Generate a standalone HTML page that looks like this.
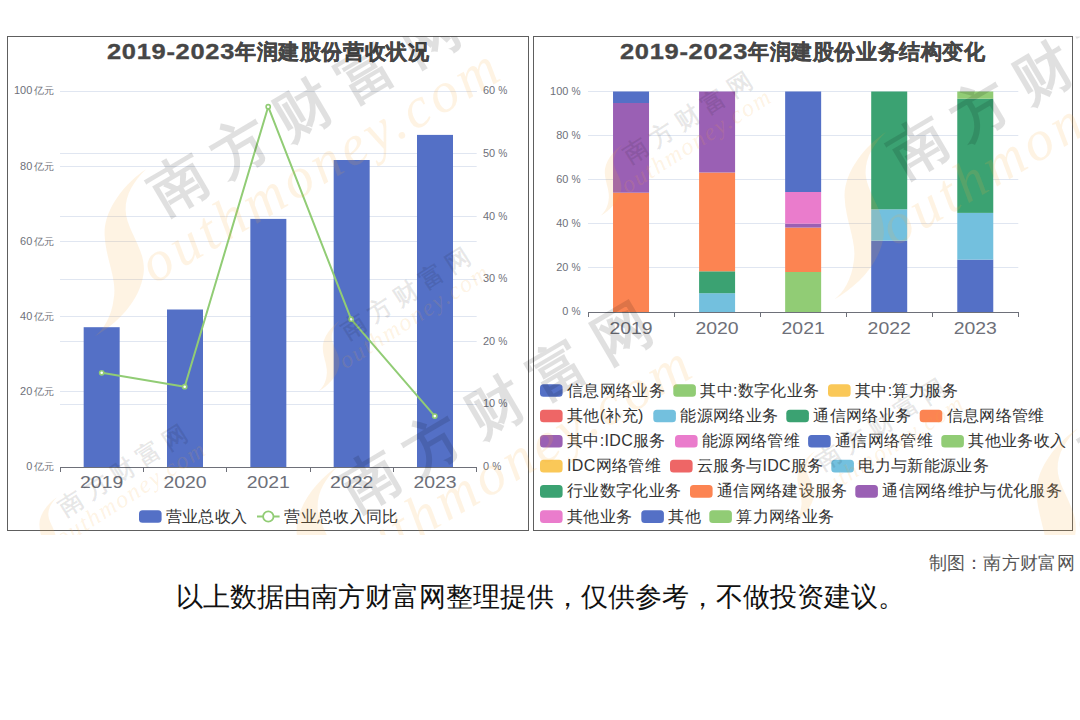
<!DOCTYPE html>
<html><head><meta charset="utf-8"><style>
html,body{margin:0;padding:0;background:#fff;width:1080px;height:720px;overflow:hidden}
svg{display:block}
text{font-family:"Liberation Sans",sans-serif}
.al{font-size:10.5px;fill:#6e7079}
.alc{font-size:10px;fill:#6e7079}
.xl{font-size:16.5px;fill:#6e7079}
.tt{font-size:21px;letter-spacing:0.6px;font-weight:bold;fill:#464646;stroke:#464646;stroke-width:0.35px}
.lg{font-size:16px;fill:#333;letter-spacing:0.35px}
.ft{font-size:18px;fill:#555;letter-spacing:0.3px}
.nt{font-size:27px;fill:#111}
.wmo{font-family:'Liberation Serif',serif;font-style:italic;font-size:57px;fill:rgba(250,170,60,0.145)}
.wmc{font-size:57px;font-weight:bold;letter-spacing:16px;fill:rgba(0,0,0,0.12)}
</style></head>
<body><svg width="1080" height="720" viewBox="0 0 1080 720">
<rect x="7.5" y="36.5" width="521" height="494" fill="#fff" stroke="#5e5e5e" stroke-width="1"/><line x1="60" y1="391.5" x2="476.67" y2="391.5" stroke="#e0e6f1" stroke-width="1"/><line x1="60" y1="316.5" x2="476.67" y2="316.5" stroke="#e0e6f1" stroke-width="1"/><line x1="60" y1="241.5" x2="476.67" y2="241.5" stroke="#e0e6f1" stroke-width="1"/><line x1="60" y1="166.5" x2="476.67" y2="166.5" stroke="#e0e6f1" stroke-width="1"/><line x1="60" y1="91.5" x2="476.67" y2="91.5" stroke="#e0e6f1" stroke-width="1"/><line x1="60" y1="404.5" x2="476.67" y2="404.5" stroke="#e0e6f1" stroke-width="1"/><line x1="60" y1="341.5" x2="476.67" y2="341.5" stroke="#e0e6f1" stroke-width="1"/><line x1="60" y1="279.5" x2="476.67" y2="279.5" stroke="#e0e6f1" stroke-width="1"/><line x1="60" y1="216.5" x2="476.67" y2="216.5" stroke="#e0e6f1" stroke-width="1"/><line x1="60" y1="153.5" x2="476.67" y2="153.5" stroke="#e0e6f1" stroke-width="1"/><line x1="60" y1="91.5" x2="476.67" y2="91.5" stroke="#e0e6f1" stroke-width="1"/><text x="26.20" y="470.10" class="al" textLength="6.10" lengthAdjust="spacingAndGlyphs">0</text><text x="34" y="470.10" class="alc">亿元</text><text x="20.10" y="394.95" class="al" textLength="12.20" lengthAdjust="spacingAndGlyphs">20</text><text x="34" y="394.95" class="alc">亿元</text><text x="20.10" y="319.80" class="al" textLength="12.20" lengthAdjust="spacingAndGlyphs">40</text><text x="34" y="319.80" class="alc">亿元</text><text x="20.10" y="244.65" class="al" textLength="12.20" lengthAdjust="spacingAndGlyphs">60</text><text x="34" y="244.65" class="alc">亿元</text><text x="20.10" y="169.50" class="al" textLength="12.20" lengthAdjust="spacingAndGlyphs">80</text><text x="34" y="169.50" class="alc">亿元</text><text x="14.00" y="94.35" class="al" textLength="18.30" lengthAdjust="spacingAndGlyphs">100</text><text x="34" y="94.35" class="alc">亿元</text><text x="483.00" y="470.10" class="al" textLength="6.10" lengthAdjust="spacingAndGlyphs">0</text><text x="492.15" y="470.10" class="al" textLength="9.1" lengthAdjust="spacingAndGlyphs">%</text><text x="483.00" y="407.48" class="al" textLength="12.20" lengthAdjust="spacingAndGlyphs">10</text><text x="498.25" y="407.48" class="al" textLength="9.1" lengthAdjust="spacingAndGlyphs">%</text><text x="483.00" y="344.85" class="al" textLength="12.20" lengthAdjust="spacingAndGlyphs">20</text><text x="498.25" y="344.85" class="al" textLength="9.1" lengthAdjust="spacingAndGlyphs">%</text><text x="483.00" y="282.23" class="al" textLength="12.20" lengthAdjust="spacingAndGlyphs">30</text><text x="498.25" y="282.23" class="al" textLength="9.1" lengthAdjust="spacingAndGlyphs">%</text><text x="483.00" y="219.60" class="al" textLength="12.20" lengthAdjust="spacingAndGlyphs">40</text><text x="498.25" y="219.60" class="al" textLength="9.1" lengthAdjust="spacingAndGlyphs">%</text><text x="483.00" y="156.97" class="al" textLength="12.20" lengthAdjust="spacingAndGlyphs">50</text><text x="498.25" y="156.97" class="al" textLength="9.1" lengthAdjust="spacingAndGlyphs">%</text><text x="483.00" y="94.35" class="al" textLength="12.20" lengthAdjust="spacingAndGlyphs">60</text><text x="498.25" y="94.35" class="al" textLength="9.1" lengthAdjust="spacingAndGlyphs">%</text><rect x="83.67" y="327.2" width="36" height="139.80" fill="#5470c6"/><rect x="167.00" y="309.5" width="36" height="157.50" fill="#5470c6"/><rect x="250.34" y="218.9" width="36" height="248.10" fill="#5470c6"/><rect x="333.67" y="160" width="36" height="307.00" fill="#5470c6"/><rect x="417.00" y="134.9" width="36" height="332.10" fill="#5470c6"/><line x1="60" y1="467.5" x2="476.67" y2="467.5" stroke="#6e7079" stroke-width="1"/><line x1="60.5" y1="467" x2="60.5" y2="472" stroke="#6e7079" stroke-width="1"/><line x1="143.5" y1="467" x2="143.5" y2="472" stroke="#6e7079" stroke-width="1"/><line x1="226.5" y1="467" x2="226.5" y2="472" stroke="#6e7079" stroke-width="1"/><line x1="310.5" y1="467" x2="310.5" y2="472" stroke="#6e7079" stroke-width="1"/><line x1="393.5" y1="467" x2="393.5" y2="472" stroke="#6e7079" stroke-width="1"/><line x1="476.5" y1="467" x2="476.5" y2="472" stroke="#6e7079" stroke-width="1"/><text x="80.07" y="487.5" class="xl" textLength="43.2" lengthAdjust="spacingAndGlyphs">2019</text><text x="163.40" y="487.5" class="xl" textLength="43.2" lengthAdjust="spacingAndGlyphs">2020</text><text x="246.74" y="487.5" class="xl" textLength="43.2" lengthAdjust="spacingAndGlyphs">2021</text><text x="330.07" y="487.5" class="xl" textLength="43.2" lengthAdjust="spacingAndGlyphs">2022</text><text x="413.40" y="487.5" class="xl" textLength="43.2" lengthAdjust="spacingAndGlyphs">2023</text><polyline fill="none" stroke="#91cc75" stroke-width="2" stroke-linejoin="round" points="101.7,372.8 184.7,386.7 268.2,106.7 351.1,319.2 434.8,416.1"/><circle cx="101.7" cy="372.8" r="2.1" fill="#fff" stroke="#91cc75" stroke-width="1.6"/><circle cx="184.7" cy="386.7" r="2.1" fill="#fff" stroke="#91cc75" stroke-width="1.6"/><circle cx="268.2" cy="106.7" r="2.1" fill="#fff" stroke="#91cc75" stroke-width="1.6"/><circle cx="351.1" cy="319.2" r="2.1" fill="#fff" stroke="#91cc75" stroke-width="1.6"/><circle cx="434.8" cy="416.1" r="2.1" fill="#fff" stroke="#91cc75" stroke-width="1.6"/><text x="107" y="59.3" class="tt"><tspan textLength="128" lengthAdjust="spacingAndGlyphs" style="font-size:22px">2019-2023</tspan>年润建股份营收状况</text><rect x="139" y="510.2" width="22.6" height="12.6" rx="3.5" fill="#5470c6"/><text x="165.6" y="522" class="lg">营业总收入</text><line x1="257" y1="516.5" x2="279.6" y2="516.5" stroke="#91cc75" stroke-width="2"/><circle cx="268.3" cy="516.5" r="5.2" fill="#fff" stroke="#91cc75" stroke-width="1.8"/><text x="284.3" y="522" class="lg">营业总收入同比</text>
<rect x="533.5" y="36.5" width="539" height="494" fill="#fff" stroke="#5e5e5e" stroke-width="1"/><line x1="588.0" y1="267.5" x2="1018.3" y2="267.5" stroke="#e0e6f1" stroke-width="1"/><line x1="588.0" y1="223.5" x2="1018.3" y2="223.5" stroke="#e0e6f1" stroke-width="1"/><line x1="588.0" y1="179.5" x2="1018.3" y2="179.5" stroke="#e0e6f1" stroke-width="1"/><line x1="588.0" y1="135.5" x2="1018.3" y2="135.5" stroke="#e0e6f1" stroke-width="1"/><line x1="588.0" y1="91.5" x2="1018.3" y2="91.5" stroke="#e0e6f1" stroke-width="1"/><text x="562.25" y="315.10" class="al" textLength="6.10" lengthAdjust="spacingAndGlyphs">0</text><text x="571.40" y="315.10" class="al" textLength="9.1" lengthAdjust="spacingAndGlyphs">%</text><text x="556.15" y="271.00" class="al" textLength="12.20" lengthAdjust="spacingAndGlyphs">20</text><text x="571.40" y="271.00" class="al" textLength="9.1" lengthAdjust="spacingAndGlyphs">%</text><text x="556.15" y="226.90" class="al" textLength="12.20" lengthAdjust="spacingAndGlyphs">40</text><text x="571.40" y="226.90" class="al" textLength="9.1" lengthAdjust="spacingAndGlyphs">%</text><text x="556.15" y="182.80" class="al" textLength="12.20" lengthAdjust="spacingAndGlyphs">60</text><text x="571.40" y="182.80" class="al" textLength="9.1" lengthAdjust="spacingAndGlyphs">%</text><text x="556.15" y="138.70" class="al" textLength="12.20" lengthAdjust="spacingAndGlyphs">80</text><text x="571.40" y="138.70" class="al" textLength="9.1" lengthAdjust="spacingAndGlyphs">%</text><text x="550.05" y="94.60" class="al" textLength="18.30" lengthAdjust="spacingAndGlyphs">100</text><text x="571.40" y="94.60" class="al" textLength="9.1" lengthAdjust="spacingAndGlyphs">%</text><rect x="613.03" y="192.7" width="36" height="119.30" fill="#fc8452"/><rect x="613.03" y="103" width="36" height="89.70" fill="#9a60b4"/><rect x="613.03" y="91.5" width="36" height="11.50" fill="#5470c6"/><rect x="699.09" y="293.2" width="36" height="18.80" fill="#73c0de"/><rect x="699.09" y="271.3" width="36" height="21.90" fill="#3ba272"/><rect x="699.09" y="172.5" width="36" height="98.80" fill="#fc8452"/><rect x="699.09" y="91.5" width="36" height="81.00" fill="#9a60b4"/><rect x="785.15" y="272" width="36" height="40.00" fill="#91cc75"/><rect x="785.15" y="227.6" width="36" height="44.40" fill="#fc8452"/><rect x="785.15" y="223.7" width="36" height="3.90" fill="#9a60b4"/><rect x="785.15" y="192" width="36" height="31.70" fill="#ea7ccc"/><rect x="785.15" y="91.5" width="36" height="100.50" fill="#5470c6"/><rect x="871.21" y="240.7" width="36" height="71.30" fill="#5470c6"/><rect x="871.21" y="209.3" width="36" height="31.40" fill="#73c0de"/><rect x="871.21" y="91.5" width="36" height="117.80" fill="#3ba272"/><rect x="957.27" y="259.6" width="36" height="52.40" fill="#5470c6"/><rect x="957.27" y="212.9" width="36" height="46.70" fill="#73c0de"/><rect x="957.27" y="98.7" width="36" height="114.20" fill="#3ba272"/><rect x="957.27" y="91.5" width="36" height="7.20" fill="#91cc75"/><line x1="588.0" y1="312.5" x2="1018.3" y2="312.5" stroke="#6e7079" stroke-width="1"/><line x1="588.5" y1="312" x2="588.5" y2="317" stroke="#6e7079" stroke-width="1"/><line x1="674.5" y1="312" x2="674.5" y2="317" stroke="#6e7079" stroke-width="1"/><line x1="760.5" y1="312" x2="760.5" y2="317" stroke="#6e7079" stroke-width="1"/><line x1="846.5" y1="312" x2="846.5" y2="317" stroke="#6e7079" stroke-width="1"/><line x1="932.5" y1="312" x2="932.5" y2="317" stroke="#6e7079" stroke-width="1"/><line x1="1018.5" y1="312" x2="1018.5" y2="317" stroke="#6e7079" stroke-width="1"/><text x="609.43" y="333.5" class="xl" textLength="43.2" lengthAdjust="spacingAndGlyphs">2019</text><text x="695.49" y="333.5" class="xl" textLength="43.2" lengthAdjust="spacingAndGlyphs">2020</text><text x="781.55" y="333.5" class="xl" textLength="43.2" lengthAdjust="spacingAndGlyphs">2021</text><text x="867.61" y="333.5" class="xl" textLength="43.2" lengthAdjust="spacingAndGlyphs">2022</text><text x="953.67" y="333.5" class="xl" textLength="43.2" lengthAdjust="spacingAndGlyphs">2023</text><text x="620" y="59.3" class="tt"><tspan textLength="128" lengthAdjust="spacingAndGlyphs" style="font-size:22px">2019-2023</tspan>年润建股份业务结构变化</text><rect x="540" y="384.20" width="22.6" height="12.6" rx="3.5" fill="#5470c6"/><text x="567.00" y="395.50" class="lg">信息网络业务</text><rect x="673.3" y="384.20" width="22.6" height="12.6" rx="3.5" fill="#91cc75"/><text x="700.30" y="395.50" class="lg">其中:数字化业务</text><rect x="828" y="384.20" width="22.6" height="12.6" rx="3.5" fill="#fac858"/><text x="855.00" y="395.50" class="lg">其中:算力服务</text><rect x="540" y="409.70" width="22.6" height="12.6" rx="3.5" fill="#ee6666"/><text x="567.00" y="421.00" class="lg">其他(补充)</text><rect x="653.3" y="409.70" width="22.6" height="12.6" rx="3.5" fill="#73c0de"/><text x="680.30" y="421.00" class="lg">能源网络业务</text><rect x="786.3" y="409.70" width="22.6" height="12.6" rx="3.5" fill="#3ba272"/><text x="813.30" y="421.00" class="lg">通信网络业务</text><rect x="919.7" y="409.70" width="22.6" height="12.6" rx="3.5" fill="#fc8452"/><text x="946.70" y="421.00" class="lg">信息网络管维</text><rect x="540" y="434.90" width="22.6" height="12.6" rx="3.5" fill="#9a60b4"/><text x="567.00" y="446.20" class="lg">其中:IDC服务</text><rect x="675" y="434.90" width="22.6" height="12.6" rx="3.5" fill="#ea7ccc"/><text x="702.00" y="446.20" class="lg">能源网络管维</text><rect x="808.1" y="434.90" width="22.6" height="12.6" rx="3.5" fill="#5470c6"/><text x="835.10" y="446.20" class="lg">通信网络管维</text><rect x="941.3" y="434.90" width="22.6" height="12.6" rx="3.5" fill="#91cc75"/><text x="968.30" y="446.20" class="lg">其他业务收入</text><rect x="540" y="459.80" width="22.6" height="12.6" rx="3.5" fill="#fac858"/><text x="567.00" y="471.10" class="lg">IDC网络管维</text><rect x="670" y="459.80" width="22.6" height="12.6" rx="3.5" fill="#ee6666"/><text x="697.00" y="471.10" class="lg">云服务与IDC服务</text><rect x="831.3" y="459.80" width="22.6" height="12.6" rx="3.5" fill="#73c0de"/><text x="858.30" y="471.10" class="lg">电力与新能源业务</text><rect x="540" y="485.10" width="22.6" height="12.6" rx="3.5" fill="#3ba272"/><text x="567.00" y="496.40" class="lg">行业数字化业务</text><rect x="690" y="485.10" width="22.6" height="12.6" rx="3.5" fill="#fc8452"/><text x="717.00" y="496.40" class="lg">通信网络建设服务</text><rect x="855.3" y="485.10" width="22.6" height="12.6" rx="3.5" fill="#9a60b4"/><text x="882.30" y="496.40" class="lg">通信网络维护与优化服务</text><rect x="540" y="510.30" width="22.6" height="12.6" rx="3.5" fill="#ea7ccc"/><text x="567.00" y="521.60" class="lg">其他业务</text><rect x="641.3" y="510.30" width="22.6" height="12.6" rx="3.5" fill="#5470c6"/><text x="668.30" y="521.60" class="lg">其他</text><rect x="709.3" y="510.30" width="22.6" height="12.6" rx="3.5" fill="#91cc75"/><text x="736.30" y="521.60" class="lg">算力网络业务</text>
<clipPath id="pc"><rect x="7" y="36.5" width="1073" height="498.5"/></clipPath><g clip-path="url(#pc)"><g transform="translate(179,185) scale(1)"><path transform="translate(-3.4,-0.6)" d="M-29.6,-15.2 C-50,-2 -72,25 -71,50 C-70,75 -58,95 -62,115 C-64,132 -72,145 -81,152 C-60,140 -36,118 -32,89 C-29,65 -50,45 -50,25 C-50,10 -42,-3 -29.6,-15.2 Z" fill="rgba(250,170,60,0.145)"/><g transform="rotate(-30.5)"><text x="-72" y="73" class="wmo" textLength="405" lengthAdjust="spacing">outhmoney.com</text><text x="-28.5" y="18" class="wmc" style="fill:rgba(0,0,0,0.12)">南方财富网</text></g></g><g transform="translate(919,147.8) scale(1)"><path transform="translate(-3.4,-0.6)" d="M-29.6,-15.2 C-50,-2 -72,25 -71,50 C-70,75 -58,95 -62,115 C-64,132 -72,145 -81,152 C-60,140 -36,118 -32,89 C-29,65 -50,45 -50,25 C-50,10 -42,-3 -29.6,-15.2 Z" fill="rgba(250,170,60,0.145)"/><g transform="rotate(-30.5)"><text x="-72" y="73" class="wmo" textLength="405" lengthAdjust="spacing">outhmoney.com</text><text x="-28.5" y="18" class="wmc" style="fill:rgba(0,0,0,0.12)">南方财富网</text></g></g><g transform="translate(371,482) scale(1)"><path transform="translate(-3.4,-0.6)" d="M-29.6,-15.2 C-50,-2 -72,25 -71,50 C-70,75 -58,95 -62,115 C-64,132 -72,145 -81,152 C-60,140 -36,118 -32,89 C-29,65 -50,45 -50,25 C-50,10 -42,-3 -29.6,-15.2 Z" fill="rgba(250,170,60,0.145)"/><g transform="rotate(-30.5)"><text x="-72" y="73" class="wmo" textLength="405" lengthAdjust="spacing">outhmoney.com</text><text x="-28.5" y="18" class="wmc" style="fill:rgba(0,0,0,0.12)">南方财富网</text></g></g><g transform="translate(1111,444) scale(1)"><path transform="translate(-3.4,-0.6)" d="M-29.6,-15.2 C-50,-2 -72,25 -71,50 C-70,75 -58,95 -62,115 C-64,132 -72,145 -81,152 C-60,140 -36,118 -32,89 C-29,65 -50,45 -50,25 C-50,10 -42,-3 -29.6,-15.2 Z" fill="rgba(250,170,60,0.145)"/><g transform="rotate(-30.5)"><text x="-72" y="73" class="wmo" textLength="405" lengthAdjust="spacing">outhmoney.com</text><text x="-28.5" y="18" class="wmc" style="fill:rgba(0,0,0,0.12)">南方财富网</text></g></g><g transform="translate(71,504) scale(0.425)"><path transform="translate(-3.4,-0.6)" d="M-29.6,-15.2 C-50,-2 -72,25 -71,50 C-70,75 -58,95 -62,115 C-64,132 -72,145 -81,152 C-60,140 -36,118 -32,89 C-29,65 -50,45 -50,25 C-50,10 -42,-3 -29.6,-15.2 Z" fill="rgba(250,170,60,0.145)"/><g transform="rotate(-32.5)"><text x="-72" y="73" class="wmo" textLength="405" lengthAdjust="spacing">outhmoney.com</text><text x="-28.5" y="18" class="wmc" style="fill:rgba(0,0,0,0.09)">南方财富网</text></g></g><g transform="translate(354.4,327) scale(0.425)"><path transform="translate(-3.4,-0.6)" d="M-29.6,-15.2 C-50,-2 -72,25 -71,50 C-70,75 -58,95 -62,115 C-64,132 -72,145 -81,152 C-60,140 -36,118 -32,89 C-29,65 -50,45 -50,25 C-50,10 -42,-3 -29.6,-15.2 Z" fill="rgba(250,170,60,0.145)"/><g transform="rotate(-32.5)"><text x="-72" y="73" class="wmo" textLength="405" lengthAdjust="spacing">outhmoney.com</text><text x="-28.5" y="18" class="wmc" style="fill:rgba(0,0,0,0.09)">南方财富网</text></g></g><g transform="translate(636.4,151.4) scale(0.425)"><path transform="translate(-3.4,-0.6)" d="M-29.6,-15.2 C-50,-2 -72,25 -71,50 C-70,75 -58,95 -62,115 C-64,132 -72,145 -81,152 C-60,140 -36,118 -32,89 C-29,65 -50,45 -50,25 C-50,10 -42,-3 -29.6,-15.2 Z" fill="rgba(250,170,60,0.145)"/><g transform="rotate(-32.5)"><text x="-72" y="73" class="wmo" textLength="405" lengthAdjust="spacing">outhmoney.com</text><text x="-28.5" y="18" class="wmc" style="fill:rgba(0,0,0,0.09)">南方财富网</text></g></g><g transform="translate(829,458) scale(0.425)"><path transform="translate(-3.4,-0.6)" d="M-29.6,-15.2 C-50,-2 -72,25 -71,50 C-70,75 -58,95 -62,115 C-64,132 -72,145 -81,152 C-60,140 -36,118 -32,89 C-29,65 -50,45 -50,25 C-50,10 -42,-3 -29.6,-15.2 Z" fill="rgba(250,170,60,0.145)"/><g transform="rotate(-32.5)"><text x="-72" y="73" class="wmo" textLength="405" lengthAdjust="spacing">outhmoney.com</text><text x="-28.5" y="18" class="wmc" style="fill:rgba(0,0,0,0.09)">南方财富网</text></g></g></g>
<text x="1075" y="568.5" text-anchor="end" class="ft">制图：南方财富网</text><text x="540" y="606" text-anchor="middle" class="nt">以上数据由南方财富网整理提供，仅供参考，不做投资建议。</text>
</svg></body></html>
